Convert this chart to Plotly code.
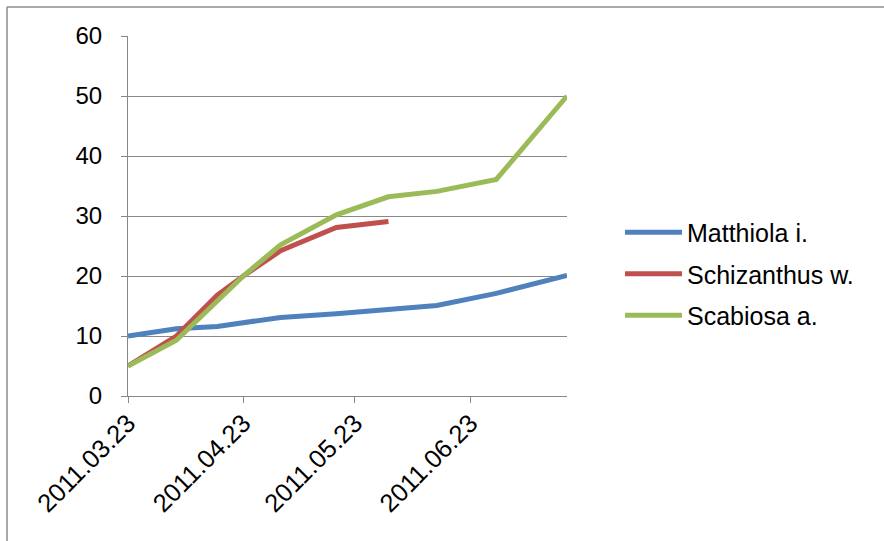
import plotly.graph_objects as go

dates = ["2011-03-23", "2011-04-05", "2011-04-16", "2011-04-23", "2011-05-03",
         "2011-05-18", "2011-06-01", "2011-06-14", "2011-06-30", "2011-07-19"]
matthiola = [10, 11.2, 11.6, None, 13.1, 13.7, 14.5, 15.1, 17.1, 20.1]
schizanthus = [5, 10, 16.8, 20, 24.2, 28.1, 29.1, None, None, None]
scabiosa = [5, 9.3, None, 20, 25.2, 30.2, 33.2, 34.1, 36.1, 50]

series_names = ["Matthiola i.", "Schizanthus w.", "Scabiosa a."]
series_values = [matthiola, schizanthus, scabiosa]
colors = ["#4F81BD", "#C0504D", "#9BBB59"]

tick_dates = ["2011-03-23", "2011-04-23", "2011-05-23", "2011-06-23"]
tick_labels = ["2011.03.23", "2011.04.23", "2011.05.23", "2011.06.23"]
y_ticks = [0, 10, 20, 30, 40, 50, 60]

fig = go.Figure()
for name, vals, col in zip(series_names, series_values, colors):
    fig.add_trace(go.Scatter(x=dates, y=vals, name=name, mode="lines",
                             connectgaps=True, legendgroup=name,
                             line=dict(color=col, width=5)))

L, R, T, B = 128, 884 - 567, 36, 541 - 396
W, H = 884, 541
pw, ph = W - L - R, H - T - B

def px_x(p):
    return (p - L) / pw

def px_y(p):
    return (H - B - p) / ph

grid_col = "#888888"
fig.update_layout(
    width=W, height=H,
    margin=dict(l=L, r=R, t=T, b=B, autoexpand=False),
    paper_bgcolor="white", plot_bgcolor="white",
    font=dict(family="Liberation Sans, Arial, sans-serif", size=24, color="black"),
    legend=dict(x=px_x(620), y=px_y(274), xanchor="left", yanchor="middle",
                font=dict(size=25), itemwidth=57, traceorder="grouped",
                tracegroupgap=6, bgcolor="rgba(0,0,0,0)"),
    xaxis=dict(type="date", range=["2011-03-23", "2011-07-19"],
               tickvals=tick_dates, ticktext=tick_labels, tickangle=-45,
               tickfont=dict(size=25.5), ticklabelstandoff=-5,
               showgrid=False, showline=True, linecolor=grid_col, linewidth=1,
               ticks="outside", ticklen=6, tickcolor=grid_col, zeroline=False),
    yaxis=dict(range=[0, 60], tickvals=y_ticks, showgrid=True, gridcolor=grid_col,
               gridwidth=1, showline=True, linecolor=grid_col, linewidth=1,
               ticks="outside", ticklen=6, tickcolor=grid_col, zeroline=False,
               ticklabelstandoff=14),
    shapes=[
        dict(type="line", xref="paper", yref="paper", x0=px_x(7), x1=px_x(900),
             y0=px_y(7), y1=px_y(7), line=dict(color="#8c8c8c", width=1.5)),
        dict(type="line", xref="paper", yref="paper", x0=px_x(7), x1=px_x(7),
             y0=px_y(7), y1=px_y(560), line=dict(color="#8c8c8c", width=1.5)),
    ],
)

fig.write_html("out.html", config={"displayModeBar": False},
               post_script="document.body.style.margin='0';document.body.style.overflow='hidden';")
